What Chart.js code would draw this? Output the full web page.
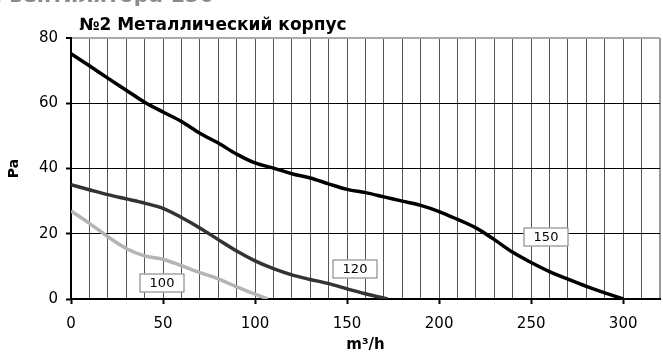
<!DOCTYPE html>
<html>
<head>
<meta charset="utf-8">
<script src="https://cdn.jsdelivr.net/npm/chart.js@4"></script>
<style>
html,body{margin:0;padding:0;background:#fff;}
#wrap{width:663px;height:356px;}
</style>
</head>
<body>
<div id="wrap"><canvas id="c" width="663" height="356"></canvas></div>
<script>
// ---- data ----
const seriesNames = ['100', '120', '150'];
const q100  = [0, 10, 20, 30, 40, 50, 60, 70, 80, 90, 100, 107];
const pa100 = [27, 23.2, 19.1, 15.5, 13.2, 12.2, 10.2, 8.1, 6.2, 3.7, 1.5, 0];
const q120  = [0, 10, 20, 30, 40, 50, 60, 70, 80, 90, 100, 110, 120, 130, 140, 150, 160, 172];
const pa120 = [35, 33.5, 32, 30.7, 29.4, 27.8, 25, 21.8, 18.2, 14.7, 11.7, 9.3, 7.4, 6.0, 4.7, 3.1, 1.6, 0];
const q150  = [0, 10, 20, 30, 40, 50, 60, 70, 80, 90, 100, 110, 120, 130, 140, 150, 160, 170, 180, 190, 200, 210, 220, 230, 240, 250, 260, 270, 280, 290, 300];
const pa150 = [75.2, 71.5, 67.7, 64, 60.3, 57.3, 54.4, 50.8, 47.8, 44.4, 41.7, 40.1, 38.4, 37.1, 35.3, 33.6, 32.6, 31.3, 30.0, 28.7, 26.8, 24.4, 21.8, 18.2, 14.3, 11.2, 8.4, 6.1, 3.9, 1.9, 0];
const xTickLabels = [0, 50, 100, 150, 200, 250, 300];
const yTickLabels = [0, 20, 40, 60, 80];
const titleText = '№2 Металлический корпус';
const topText = 'Характеристики вентилятора 150';
const xTitle = 'm³/h';
const yTitle = 'Pa';
// label anchor (in data units) for each series tag
const tagAt = { '100': [49.5, 4.9], '120': [154.5, 9.2], '150': [258, 18.9] };

const colors = { '100': '#b4b4b4', '120': '#333333', '150': '#000000' };
const FONT = 'DejaVu Sans';

function pts(xs, ys) { return xs.map((x, i) => ({ x: x, y: ys[i] })); }
const seriesData = { '100': pts(q100, pa100), '120': pts(q120, pa120), '150': pts(q150, pa150) };

const decor = {
  id: 'decor',
  afterDatasetsDraw(chart) {
    const ctx = chart.ctx;
    const xs = chart.scales.x, ys = chart.scales.y;
    ctx.save();
    ctx.font = '13px "' + FONT + '"';
    ctx.textAlign = 'center';
    ctx.textBaseline = 'middle';
    seriesNames.forEach(n => {
      const cx = Math.round(xs.getPixelForValue(tagAt[n][0]));
      const cy = Math.round(ys.getPixelForValue(tagAt[n][1]));
      const w = 45, h = 19;
      ctx.fillStyle = '#fff';
      ctx.fillRect(cx - w / 2, cy - h / 2, w, h);
      ctx.strokeStyle = '#777';
      ctx.lineWidth = 1;
      ctx.strokeRect(cx - w / 2 + 0.5, cy - h / 2 + 0.5, w - 1, h - 1);
      ctx.fillStyle = '#000';
      ctx.fillText(n, cx, cy + 1);
    });
    ctx.restore();
  },
  afterDraw(chart) {
    const ctx = chart.ctx;
    ctx.save();
    ctx.textAlign = 'right';
    ctx.textBaseline = 'alphabetic';
    ctx.fillStyle = '#8a8a8a';
    ctx.font = 'bold 21px "' + FONT + '"';
    ctx.fillText(topText, 214, 2);
    ctx.textAlign = 'left';
    ctx.fillStyle = '#000';
    ctx.font = 'bold 17px "' + FONT + '"';
    ctx.fillText(titleText, 79, 30);
    ctx.restore();
  }
};

new Chart(document.getElementById('c'), {
  type: 'line',
  data: {
    datasets: seriesNames.map(n => ({
      label: n,
      data: seriesData[n],
      borderColor: colors[n],
      backgroundColor: colors[n],
      borderWidth: 3.5,
      pointRadius: 0,
      tension: 0.4,
      cubicInterpolationMode: 'monotone',
      fill: false
    }))
  },
  options: {
    responsive: false,
    animation: false,
    events: [],
    layout: { padding: { top: 38, right: 3, left: 0, bottom: 0 } },
    plugins: { legend: { display: false }, tooltip: { enabled: false }, title: { display: false } },
    scales: {
      x: {
        type: 'linear', min: 0, max: 320,
        afterFit(s) { s.height = 57; s.paddingRight = 0; s.paddingLeft = 0; },
        afterBuildTicks(s) {
          const t = [];
          for (let v = 0; v <= 320; v += 10) t.push({ value: v });
          s.ticks = t;
        },
        ticks: {
          autoSkip: false, maxRotation: 0, padding: 11,
          color: '#000', font: { family: FONT, size: 15 },
          callback: v => xTickLabels.includes(v) ? String(v) : ''
        },
        grid: {
          color: c => (c.tick && c.tick.value === 320) ? '#9a9a9a' : '#555',
          lineWidth: c => (c.tick && c.tick.value === 320) ? 2 : 1,
          tickLength: 5,
          tickColor: c => (c.tick && xTickLabels.includes(c.tick.value)) ? '#000' : 'rgba(0,0,0,0)',
          tickWidth: 2
        },
        border: { display: true, color: '#000', width: 2 },
        title: { display: true, text: xTitle, color: '#000', font: { family: FONT, size: 15, weight: 'bold' }, padding: { top: 0, bottom: 2 } }
      },
      y: {
        type: 'linear', min: 0, max: 80,
        afterFit(s) { s.width = 71; s.paddingTop = 0; s.paddingBottom = 0; },
        afterBuildTicks(s) { s.ticks = yTickLabels.map(v => ({ value: v })); },
        ticks: { padding: 8, color: '#000', font: { family: FONT, size: 15 } },
        grid: {
          color: c => (c.tick && c.tick.value === 80) ? '#aaaaaa' : '#000',
          lineWidth: c => (c.tick && c.tick.value === 80) ? 2 : 1,
          tickLength: 5,
          tickColor: '#000',
          tickWidth: 2
        },
        border: { display: true, color: '#000', width: 2 },
        title: { display: true, text: yTitle, color: '#000', font: { family: FONT, size: 14, weight: 'bold' }, padding: { top: 6, bottom: 0 } }
      }
    }
  },
  plugins: [decor]
});
</script>
</body>
</html>
